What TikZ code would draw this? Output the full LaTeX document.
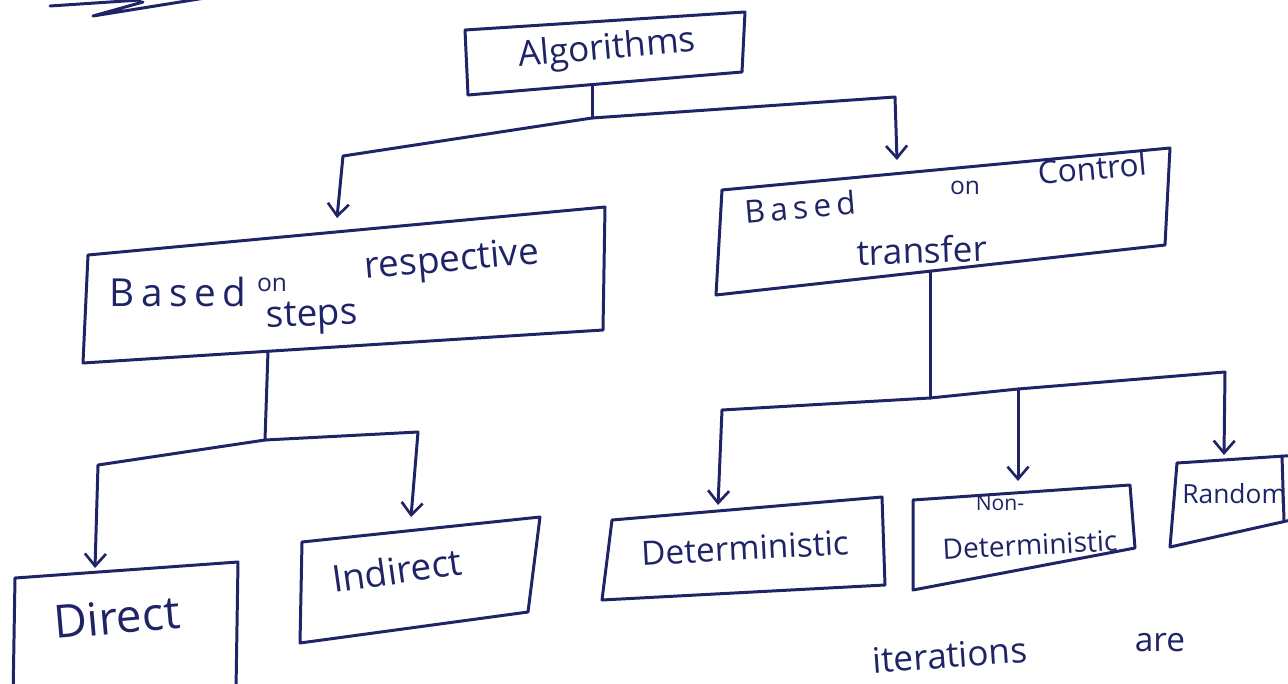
\documentclass[tikz,border=0pt]{standalone}
\usepackage{fontspec}
\setmainfont{Open Sans}
\usetikzlibrary{arrows.meta}
\definecolor{ink}{HTML}{1E2466}
\begin{document}
\begin{tikzpicture}[x=0.02cm,y=-0.02cm,
  pen/.style={draw=ink,line width=1.7pt,line cap=round,line join=round},
  link/.style={pen,-{Straight Barb[length=7pt,width=12pt,line width=1.5pt]}},
  txt/.style={text=ink,inner sep=0pt,anchor=center},
  fs/.style={font=\fontsize{#1}{#1}\selectfont},
]
\useasboundingbox (0,0) rectangle (1288,683);
\clip (0,0) rectangle (1288,683);

% underline scribble at the top
\draw[pen] (50,6) -- (140,0) (143,2) -- (93,16) -- (205,-2);

% ---------- boxes ----------
\draw[pen] (465,30) -- (745,12) -- (742,72) -- (468,95) -- cycle;      % Algorithms
\draw[pen] (88,255) -- (605,207) -- (603,330) -- (83,363) -- cycle;    % respective steps
\draw[pen] (722,190) -- (1170,148) -- (1165,245) -- (716,295) -- cycle; % control transfer
\draw[pen] (15,578) -- (238,562) -- (236,690) -- (13,700) -- cycle;    % Direct
\draw[pen] (302,542) -- (540,517) -- (528,612) -- (300,643) -- cycle;  % Indirect
\draw[pen] (612,520) -- (882,497) -- (885,585) -- (602,600) -- cycle;  % Deterministic
\draw[pen] (913,500) -- (1130,485) -- (1135,548) -- (913,590) -- cycle; % Non-Deterministic
% Random (runs past the right edge)
\draw[pen] (1300,518) -- (1170,547) -- (1177,463) -- (1300,455);
\draw[pen] (1282,456) -- (1284,521);

% ---------- texts ----------
\node[txt,fs=20,rotate=5] (alg) at (607,50) {Algorithms};

\node[txt,fs=22] (steps-w1) at (178,292) {B\,a\,s\,e\,d};
\node[txt,fs=14] (steps-w2) at (272,285) {on};
\node[txt,fs=21,rotate=5] (steps-w3) at (452,262) {respective};
\node[txt,fs=21,rotate=2] (steps-w4) at (312,318) {steps};

\node[txt,fs=18,rotate=5] (ctrl-w1) at (800,207) {B\,a\,s\,e\,d};
\node[txt,fs=14] (ctrl-w2) at (965,188) {on};
\node[txt,fs=18,rotate=5] (ctrl-w3) at (1092,168) {Control};
\node[txt,fs=20,rotate=2] (ctrl-w4) at (922,250) {transfer};

\node[txt,fs=26,rotate=5] (direct) at (117,617) {Direct};
\node[txt,fs=21,rotate=8] (indirect) at (397,570) {Indirect};
\node[txt,fs=19,rotate=3] (det) at (745,548) {Deterministic};
\node[txt,fs=12] (nondet-w1) at (1000,503) {Non-};
\node[txt,fs=16,rotate=3] (nondet-w2) at (1030,545) {Deterministic};
\node[txt,fs=15,anchor=west] (random) at (1182,494) {Random};

\node[txt,fs=20,rotate=4] (note-w1) at (950,655) {iterations};
\node[txt,fs=19] (note-w2) at (1160,643) {are};

% ---------- connector points ----------
\coordinate (alg-out) at (592,85);
\coordinate (j1) at (592,118);
\coordinate (j1-l) at (343,156);
\coordinate (j1-r) at (895,97);
\coordinate (steps-in) at (337,218);
\coordinate (ctrl-in) at (897,160);

\coordinate (steps-out) at (268,351);
\coordinate (j2) at (265,440);
\coordinate (j2-l) at (98,465);
\coordinate (j2-r) at (418,432);
\coordinate (direct-in) at (95,568);
\coordinate (indirect-in) at (411,517);

\coordinate (ctrl-out) at (930,271);
\coordinate (j3) at (930,398);
\coordinate (j3-l) at (722,410);
\coordinate (j3-m) at (1018,389);
\coordinate (j3-r) at (1225,372);
\coordinate (det-in) at (718,505);
\coordinate (nondet-in) at (1018,481);
\coordinate (random-in) at (1224,455);

% ---------- connectors ----------
\draw[pen] (alg-out) -- (j1);
\draw[link] (j1) -- (j1-l) -- (steps-in);
\draw[link] (j1) -- (j1-r) -- (ctrl-in);

\draw[pen] (steps-out) -- (j2);
\draw[link] (j2) -- (j2-l) -- (direct-in);
\draw[link] (j2) -- (j2-r) -- (indirect-in);

\draw[pen] (ctrl-out) -- (j3);
\draw[link] (j3) -- (j3-l) -- (det-in);
\draw[pen] (j3) -- (j3-m) -- (j3-r);
\draw[link] (j3-m) -- (nondet-in);
\draw[link] (j3-r) -- (random-in);
\end{tikzpicture}
\end{document}
